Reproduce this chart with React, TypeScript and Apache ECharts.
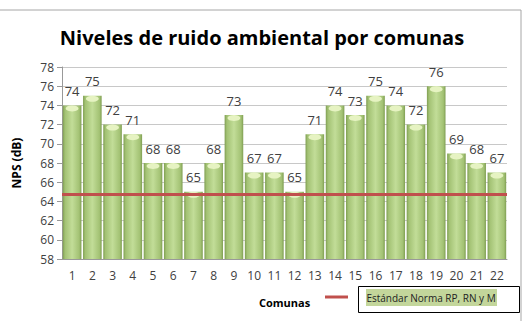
import React, { useEffect, useRef } from "react";
import * as echarts from "echarts";

const categories = ["1","2","3","4","5","6","7","8","9","10","11","12","13","14","15","16","17","18","19","20","21","22"];
const nps = [74,75,72,71,68,68,65,68,73,67,67,65,71,74,73,75,74,72,76,69,68,67];
const standard = 64.7;
const yMin = 58;
const yMax = 78;
const yStep = 2;
const titleText = "Niveles de ruido ambiental por comunas";
const legendText = "Estándar Norma RP, RN y M";

const FONT = "'Open Sans', 'Noto Sans', sans-serif";

export default function App() {
  const ref = useRef<HTMLDivElement>(null);
  useEffect(() => {
    document.body.style.margin = "0";
    const chart = echarts.init(ref.current!, null, { renderer: "svg" });
    chart.setOption({
      animation: false,
      backgroundColor: "#ffffff",
      textStyle: { fontFamily: FONT },
      title: {
        text: titleText,
        left: "center",
        top: 22,
        textStyle: { fontFamily: FONT, fontWeight: "bold", fontSize: 20, color: "#000" },
      },
      grid: { left: 62, right: 17, top: 67, bottom: 62 },
      xAxis: {
        type: "category",
        data: categories,
        name: "Comunas",
        nameLocation: "middle",
        nameGap: 38,
        nameTextStyle: { fontFamily: FONT, fontWeight: "bold", fontSize: 11, color: "#000" },
        axisLine: { lineStyle: { color: "#999" } },
        axisTick: { show: false },
        axisLabel: { color: "#404040", fontSize: 12, margin: 10, fontFamily: FONT },
      },
      yAxis: {
        type: "value",
        min: yMin,
        max: yMax,
        interval: yStep,
        name: "NPS (dB)",
        nameLocation: "middle",
        nameGap: 40,
        nameTextStyle: { fontFamily: FONT, fontWeight: "bold", fontSize: 12, color: "#000" },
        axisLine: { show: true, lineStyle: { color: "#999" } },
        axisTick: { show: true, length: 5, lineStyle: { color: "#999" } },
        axisLabel: { color: "#404040", fontSize: 12, margin: 8, fontFamily: FONT },
        splitLine: { lineStyle: { color: "#c8c8c8" } },
      },
      series: [
        {
          type: "bar",
          data: nps,
          barCategoryGap: "8%",
          itemStyle: {
            color: new echarts.graphic.LinearGradient(0, 0, 1, 0, [
              { offset: 0, color: "#7f9e52" },
              { offset: 0.12, color: "#a3c274" },
              { offset: 0.5, color: "#c2dd98" },
              { offset: 0.88, color: "#a3c274" },
              { offset: 1, color: "#7f9e52" },
            ]),
          },
          label: {
            show: true,
            position: "top",
            distance: 8,
            color: "#404040",
            fontSize: 13,
            fontFamily: FONT,
          },
          markLine: {
            silent: true,
            symbol: "none",
            label: { show: false },
            lineStyle: { color: "#c0504d", width: 3, type: "solid" },
            data: [{ yAxis: standard }],
          },
          z: 2,
        },
        {
          type: "pictorialBar",
          data: nps,
          symbol: "circle",
          symbolSize: ["92%", 6],
          symbolPosition: "end",
          symbolOffset: [0, 0],
          itemStyle: { color: "#e6f3c2" },
          z: 3,
          silent: true,
        },
      ],
      graphic: [
        {
          type: "rect",
          shape: { x: -1, y: 10, width: 522, height: 330 },
          style: { fill: "none", stroke: "#a6a6a6", lineWidth: 1 },
          z: -1,
        },
        {
          type: "line",
          shape: { x1: 325, y1: 297, x2: 348, y2: 297 },
          style: { stroke: "#c0504d", lineWidth: 3 },
        },
        {
          type: "rect",
          shape: { x: 358.5, y: 286.5, width: 161, height: 26 },
          style: { fill: "#ffffff", stroke: "#000", lineWidth: 1 },
        },
        {
          type: "rect",
          shape: { x: 366, y: 289, width: 131, height: 17 },
          style: { fill: "#c3d69b" },
        },
        {
          type: "text",
          x: 431,
          y: 297.5,
          style: {
            text: legendText,
            fontFamily: FONT,
            fontSize: 10,
            fill: "#222",
            align: "center",
            verticalAlign: "middle",
          },
        },
      ],
    });
    return () => chart.dispose();
  }, []);
  return <div ref={ref} style={{ position: "fixed", left: 0, top: 0, width: 524, height: 321 }} />;
}
